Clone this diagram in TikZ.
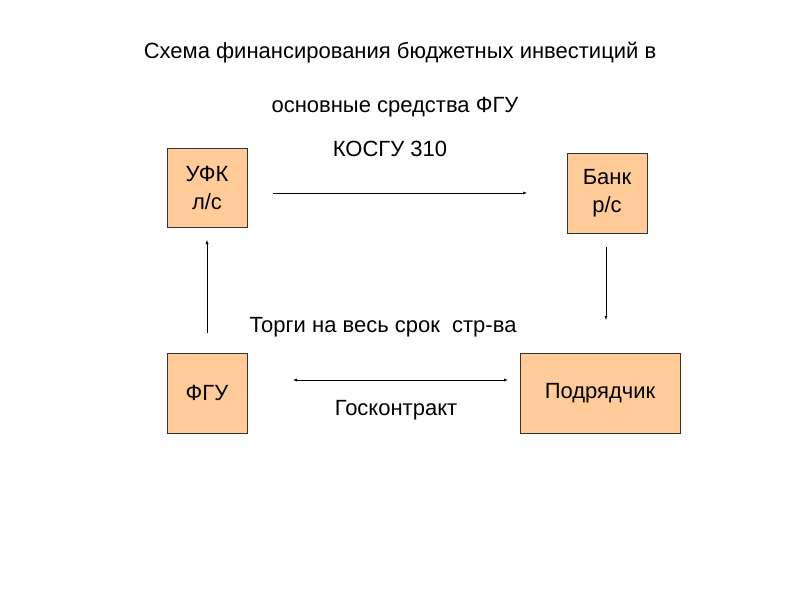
\documentclass[tikz,border=0pt]{standalone}
\usepackage{fontspec}
\setmainfont{Liberation Sans}
\begin{document}
\begin{tikzpicture}[x=1pt,y=-1pt,
  box/.style={draw=black!80,fill={rgb,255:red,255;green,204;blue,153},inner sep=0pt,align=center,font=\fontsize{22}{28}\selectfont},
  lbl/.style={font=\fontsize{22}{26}\selectfont,inner sep=0pt},
  arr/.style={-latex,thin}]
\useasboundingbox[fill=white] (0,0) rectangle (800,600);
\node[lbl] (t1) at (400,53) {Схема финансирования бюджетных инвестиций в};
\node[lbl] (t2) at (395,107) {основные средства ФГУ};
\node[lbl] (t3) at (390,149) {КОСГУ 310};
\node[box,minimum width=80,minimum height=79] (ufk) at (207,187.5) {УФК\\л/с};
\node[box,minimum width=80,minimum height=80] (bank) at (607,193) {Банк\\р/с};
\node[box,minimum width=80,minimum height=80] (fgu) at (207,393) {ФГУ};
\node[box,minimum width=160,minimum height=80] (pod) at (600,393) {Подрядчик};
\node[lbl] (torg) at (383,327) {Торги на весь срок\ \ стр-ва};
\node[lbl] (gk) at (396,410) {Госконтракт};
\coordinate (a1) at (273,193); \coordinate (a2) at (527,193);
\coordinate (b1) at (606,247); \coordinate (b2) at (606,320);
\coordinate (c1) at (207,333); \coordinate (c2) at (207,240);
\coordinate (d1) at (293,380); \coordinate (d2) at (508,380);
\draw[arr] (a1) -- (a2);
\draw[arr] (b1) -- (b2);
\draw[arr] (c1) -- (c2);
\draw[latex-latex,thin] (d1) -- (d2);
\end{tikzpicture}
\end{document}
